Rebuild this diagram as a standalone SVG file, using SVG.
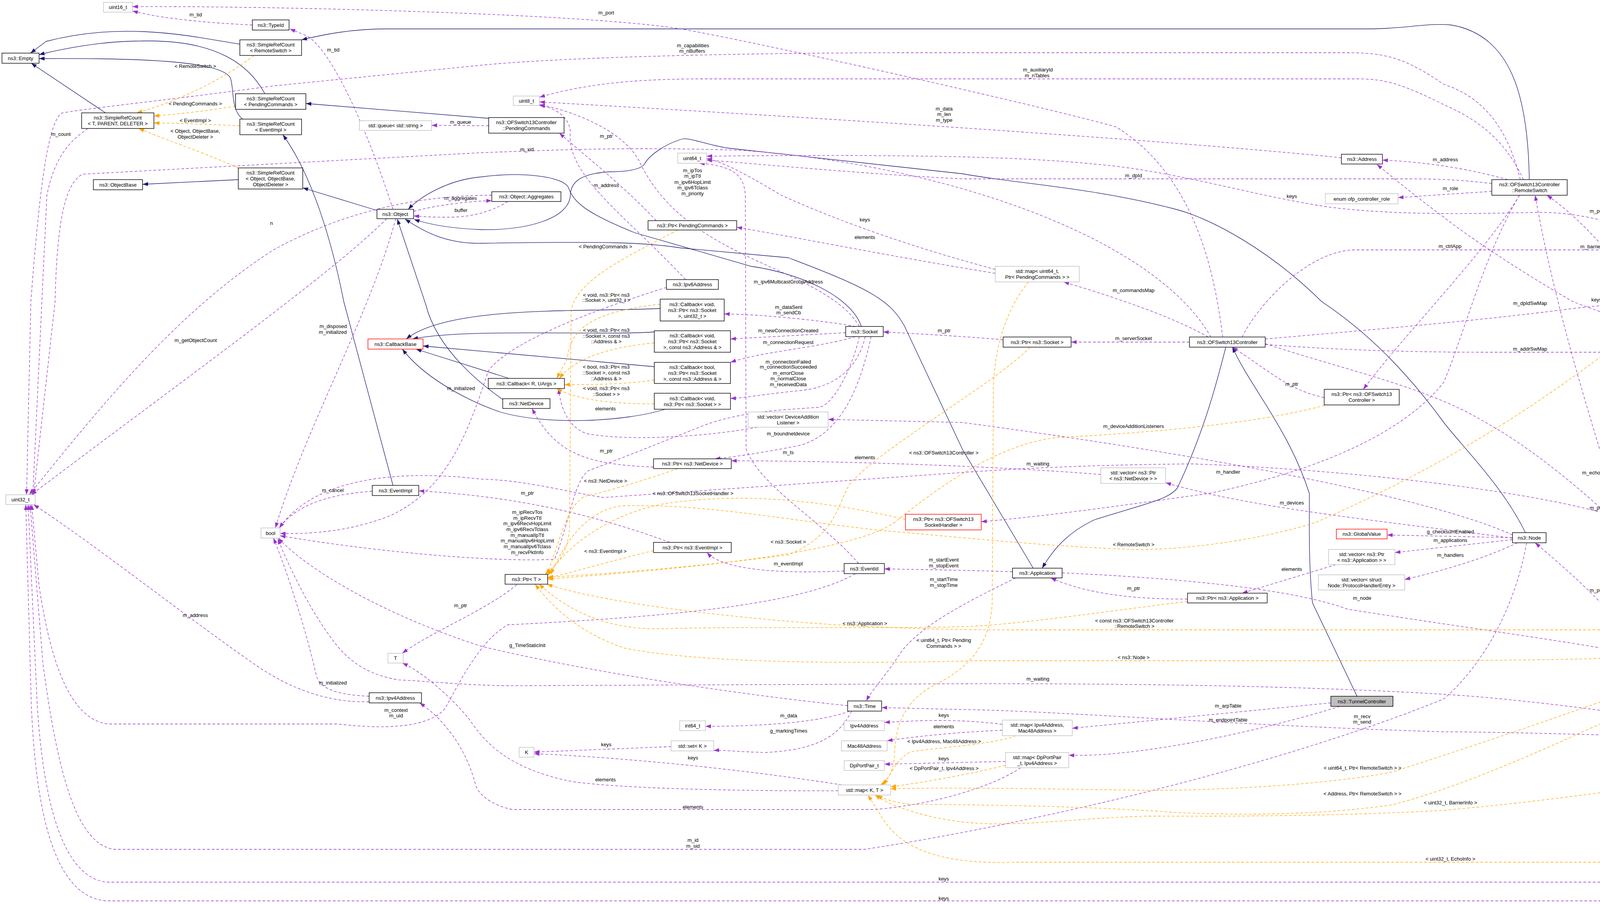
<svg xmlns="http://www.w3.org/2000/svg" width="4927" height="2315" viewBox="0 0 4927 2315">
<defs>
<style>
text{font-family:"Liberation Sans",Arial,sans-serif;font-size:13px;fill:#000;text-anchor:middle}
.n rect{fill:#fff;stroke:#000;stroke-width:1.4}
.g rect{fill:#fff;stroke:#bfbfbf;stroke-width:1.4}
.r rect{fill:#fff;stroke:#ff0000;stroke-width:1.4}
.s rect{fill:#bfbfbf;stroke:#000;stroke-width:1.4}
.i{fill:none;stroke:#191970;stroke-width:1.3;marker-end:url(#mi)}
.u{fill:none;stroke:#9a32cd;stroke-width:1.3;stroke-dasharray:7,5;marker-end:url(#mu)}
.t{fill:none;stroke:#ffa500;stroke-width:1.3;stroke-dasharray:7,5;marker-end:url(#mt)}
</style>
<marker id="mi" markerUnits="userSpaceOnUse" markerWidth="14" markerHeight="10" refX="14" refY="5" orient="auto"><path d="M0,0L14,5L0,10z" fill="#191970"/></marker>
<marker id="mu" markerUnits="userSpaceOnUse" markerWidth="14" markerHeight="10" refX="14" refY="5" orient="auto"><path d="M0,0L14,5L0,10z" fill="#9a32cd"/></marker>
<marker id="mt" markerUnits="userSpaceOnUse" markerWidth="14" markerHeight="10" refX="14" refY="5" orient="auto"><path d="M0,0L14,5L0,10z" fill="#ffa500"/></marker>
</defs>
<rect width="4927" height="2315" fill="#fff"/>
<g id="edges">
<path class="i" d="M614,113 C520,100 330,50 118,106 L78,136"/>
<path class="i" d="M678,240 C640,170 560,100 360,105 C260,105 160,125 100,140"/>
<path class="i" d="M621,305 C590,280 600,230 590,200 C570,160 400,148 100,150"/>
<path class="i" d="M270,289 L80,162"/>
<path class="i" d="M610,460 L365,472"/>
<path class="i" d="M965,539 L775,481"/>
<path class="i" d="M1006,1243 L880,772 C850,620 800,450 724,345"/>
<path class="i" d="M3915,460 C3912,250 3870,90 3715,64 C3650,58 3600,74 3500,74 L990,74 C900,74 830,88 772,102"/>
<path class="i" d="M1251,303 L783,265"/>
<path class="i" d="M1303,969 L1065,894"/>
<path class="i" d="M1675,939 L1083,886"/>
<path class="i" d="M1703,1048 C1600,1080 1400,1090 1280,1055 C1180,1020 1080,960 1030,894"/>
<path class="i" d="M1675,850 C1550,860 1200,840 1056,868"/>
<path class="i" d="M1690,790 C1500,800 1150,780 1040,868"/>
<path class="i" d="M2205,836 C2180,760 2050,700 1923,682 L1625,596 C1500,545 1470,520 1455,480 C1440,450 1330,440 1232,453 C1150,460 1080,500 1045,536"/>
<path class="i" d="M3905,1364 C3850,1250 3750,1150 3700,1087 C3600,950 3500,850 3383,772 C3250,640 3100,560 3014,537 C2800,480 2600,470 2464,445 L1861,379 C1800,368 1760,350 1743,357 C1700,370 1660,400 1650,420 C1640,435 1600,440 1560,440 C1480,445 1460,470 1460,502 C1455,560 1350,590 1232,588 C1150,585 1100,575 1060,562"/>
<path class="i" d="M2645,1455 L2464,1151 L2316,836 C2280,770 2230,740 2018,660 L1743,635 C1650,620 1546,618 1232,623 C1140,625 1080,590 1037,561"/>
<path class="i" d="M1287,1023 C1240,990 1120,900 1090,780 L1017,561"/>
<path class="i" d="M3138,889 C3110,1000 3077,1117 3014,1250 C2990,1280 2935,1289 2802,1331 C2740,1360 2700,1400 2668,1455"/>
<path class="i" d="M3474,1783 L3360,1544 C3350,1450 3352,1350 3352,1264 C3300,1100 3200,990 3155,889"/>

<path class="u" d="M646,64 C560,60 420,50 339,28"/>
<path class="u" d="M1006,536 C940,330 850,130 786,92 L742,74"/>
<path class="u" d="M3130,863 C3110,700 3060,450 2857,325 C2700,280 2000,120 1743,74 C1500,35 700,15 339,17"/>
<path class="u" d="M3892,460 C3860,330 3800,250 3696,216 C3600,150 3550,135 3450,135 L2300,135 C1800,136 1400,150 1232,167 L700,220 C400,260 200,280 157,290 C120,320 100,500 79,772 L68,1267"/>
<path class="u" d="M3900,460 C3850,350 3770,300 3696,268 C3600,220 3550,202 3480,202 L1800,202 C1600,202 1480,220 1381,249"/>
<path class="u" d="M3434,404 C3200,380 2600,330 1381,261"/>
<path class="u" d="M225,329 C180,360 140,400 120,500 L84,1267"/>
<path class="u" d="M1251,322 L1105,321"/>
<path class="u" d="M1059,541 C1120,525 1200,515 1259,514"/>
<path class="u" d="M1300,516 C1270,535 1230,550 1180,555 C1130,558 1090,555 1059,553"/>
<path class="u" d="M1680,565 C1600,480 1500,400 1432,341"/>
<path class="u" d="M3100,863 C2950,600 2400,420 1900,385 C1600,375 1400,385 1232,391 L212,446 C160,470 145,600 141,772 L86,1267"/>
<path class="u" d="M2200,836 C2150,750 2000,700 1900,650 C1800,600 1700,540 1640,420 C1600,330 1450,280 1381,268"/>
<path class="u" d="M1755,716 C1600,550 1450,450 1460,340 C1460,300 1420,275 1381,270"/>
<path class="u" d="M3819,470 C3750,462 3700,458 3600,458 L2464,458 C2200,445 1950,420 1809,410"/>
<path class="u" d="M2548,690 C2400,650 2200,590 2000,500 C1900,440 1850,415 1809,406"/>
<path class="u" d="M2548,700 C2300,660 2050,610 1886,582"/>
<path class="u" d="M4521,742 C4300,620 4100,540 3932,544 C3750,548 3564,551 3400,530 C3200,500 3014,438 2800,420 C2600,400 2300,395 1809,400"/>
<path class="u" d="M4470,880 C4350,870 4200,840 4026,772 C3900,700 3750,600 3696,556 C3620,500 3560,450 3525,421"/>
<path class="u" d="M4470,752 L4350,798"/>
<path class="u" d="M4488,865 L4312,811"/>
<path class="u" d="M4230,785 C4150,680 4050,560 3960,500"/>
<path class="u" d="M3860,460 C3750,430 3650,415 3539,410"/>
<path class="u" d="M3819,490 L3579,506"/>
<path class="u" d="M3890,500 C3800,650 3600,850 3490,997"/>
<path class="u" d="M3180,863 C3220,780 3350,640 3470,640 L4560,640 C4650,650 4700,750 4720,900 L4845,1881"/>
<path class="u" d="M3239,880 C3450,950 3650,990 3800,1080 C4000,1190 4250,1430 4420,1640 C4470,1750 4480,1815 4600,1840 C4700,1880 4780,1980 4833,2114"/>
<path class="u" d="M3239,868 C3450,850 3800,820 4010,792 C4200,770 4350,765 4470,763"/>
<path class="u" d="M3239,882 C3400,895 3600,902 3800,902 L4200,902 C4350,900 4420,895 4470,893"/>
<path class="u" d="M3093,863 C3000,810 2850,760 2723,722"/>
<path class="u" d="M3045,876 L2742,876"/>
<path class="u" d="M2568,870 C2450,860 2350,855 2261,850"/>
<path class="u" d="M3390,1018 C3300,1000 3250,950 3155,889"/>
<path class="u" d="M2190,836 C2100,820 1950,805 1854,804"/>
<path class="u" d="M2165,852 L1870,868"/>
<path class="u" d="M2190,862 C2100,890 1950,900 1870,928"/>
<path class="u" d="M2215,862 C2200,930 2150,990 2050,1000 C1950,1010 1900,1020 1870,1020"/>
<path class="u" d="M2230,862 C2200,1000 2150,1110 2050,1140 C1950,1160 1880,1170 1830,1175"/>
<path class="u" d="M1673,1196 C1500,1190 1420,1160 1362,1046"/>
<path class="u" d="M2818,1215 C2500,1190 2100,1180 1872,1180"/>
<path class="u" d="M1939,1094 C1800,1120 1600,1130 1500,1110 C1450,1090 1435,1040 1430,995"/>
<path class="u" d="M3872,1370 C3700,1290 3200,1180 2464,1082 L2120,1074"/>
<path class="u" d="M3872,1378 C3500,1330 3200,1300 2984,1236"/>
<path class="u" d="M3872,1377 L3551,1370"/>
<path class="u" d="M3872,1382 L3571,1415"/>
<path class="u" d="M3885,1390 C3800,1430 3700,1460 3596,1484"/>
<path class="u" d="M3420,1446 L3180,1519"/>
<path class="u" d="M3040,1534 C2900,1535 2780,1520 2690,1480"/>
<path class="u" d="M2719,1467 C3000,1480 3300,1505 3450,1560 C3700,1600 4000,1640 4170,1672"/>
<path class="u" d="M4200,1666 C4120,1550 4000,1450 3930,1390"/>
<path class="u" d="M4225,1586 C4150,1300 4000,900 3930,500"/>
<path class="u" d="M4516,1735 C4450,1700 4380,1660 4330,1640"/>
<path class="u" d="M4510,1871 C4420,1800 4370,1720 4340,1640"/>
<path class="u" d="M4810,1881 C4750,1830 4680,1790 4610,1775"/>
<path class="u" d="M4805,2114 C4700,2050 4640,1990 4582,1911"/>
<path class="u" d="M4839,1922 C4800,2100 4600,2250 4325,2259 L275,2259 C160,2250 110,2050 95,1800 L72,1292"/>
<path class="u" d="M4827,2154 C4780,2240 4650,2305 4560,2307 L275,2307 C130,2300 90,2050 80,1800 L66,1292"/>
<path class="u" d="M3908,1390 C3880,1550 3800,1700 3696,1790 C3300,1950 2700,2100 2214,2175 L291,2175 C200,2160 150,2000 110,1700 L77,1292"/>
<path class="u" d="M945,1797 C850,1800 750,1770 650,1700 C450,1560 250,1400 86,1292"/>
<path class="u" d="M945,1783 C880,1780 820,1770 810,1730 C780,1600 730,1450 700,1378"/>
<path class="u" d="M2190,1469 C2050,1550 1700,1580 1300,1600 C1230,1640 1180,1740 1139,1815 C1100,1860 1000,1870 864,1854 L275,1854 C180,1840 130,1700 100,1500 L81,1292"/>
<path class="u" d="M2198,1443 C2100,1330 1950,1250 1910,1150 L1908,500 C1905,450 1880,425 1790,418"/>
<path class="u" d="M2161,1462 C2000,1470 1850,1460 1810,1415"/>
<path class="u" d="M1715,1389 C1500,1310 1300,1270 1072,1257"/>
<path class="u" d="M953,1258 C850,1265 760,1290 715,1352"/>
<path class="u" d="M1013,560 C950,800 780,1100 705,1352"/>
<path class="u" d="M1706,736 C1500,800 1300,880 1250,950 C1200,1100 1150,1250 1000,1320 C900,1360 800,1368 717,1366"/>
<path class="u" d="M2200,862 C2180,950 2130,1040 2096,1043 C2000,1050 1900,1053 1800,1090 C1700,1130 1600,1170 1507,1205 C1470,1230 1460,1330 1420,1432 C1300,1440 1000,1420 717,1372"/>
<path class="u" d="M2170,1807 C1900,1780 1500,1720 1232,1655 C1000,1580 800,1470 712,1378"/>
<path class="u" d="M1323,1497 C1250,1560 1100,1620 1030,1673"/>
<path class="u" d="M2175,1821 C2100,1850 1950,1860 1806,1860"/>
<path class="u" d="M2180,1821 C2150,1880 2100,1920 1960,1927 C1880,1925 1850,1920 1827,1922"/>
<path class="u" d="M1718,1912 L1367,1926"/>
<path class="u" d="M2155,2010 C1900,1970 1600,1940 1367,1930"/>
<path class="u" d="M2146,2025 C1900,2026 1600,2020 1468,2002 C1300,1970 1240,1900 1200,1840 C1150,1780 1080,1720 1030,1698"/>
<path class="u" d="M2566,1855 C2450,1840 2350,1845 2264,1850"/>
<path class="u" d="M2566,1870 C2450,1875 2350,1885 2271,1897"/>
<path class="u" d="M2574,1950 L2264,1957"/>
<path class="u" d="M2613,1966 C2550,2010 2400,2060 2238,2073 L1311,2073 C1250,2060 1225,2030 1218,2012 C1190,1900 1120,1830 1074,1800"/>
<path class="u" d="M3407,1800 C3200,1820 2900,1850 2745,1865"/>
<path class="u" d="M3430,1809 C3200,1880 2900,1940 2736,1934"/>
<path class="u" d="M4464,1893 C4200,1885 3900,1875 3696,1874 C3200,1860 2700,1820 2464,1817 L2257,1812"/>
<path class="u" d="M4464,1873 C4200,1830 3900,1790 3696,1778 C3400,1760 3000,1750 2464,1751 L1300,1756 C1200,1755 1100,1745 1021,1741 C950,1730 900,1700 860,1650 C790,1560 740,1450 711,1380"/>
<path class="u" d="M4545,1735 C4480,1600 4300,1400 4136,1323 C3900,1250 3400,1200 3053,1188 C2800,1190 2600,1200 2464,1210 L1546,1274 C1450,1260 1350,1230 1232,1227 C1000,1200 800,1230 715,1352"/>
<path class="u" d="M3890,500 C3800,650 3750,850 3696,979 C3600,1100 3400,1200 3093,1264 C2900,1290 2700,1320 2512,1336"/>
<path class="u" d="M2592,1464 C2450,1460 2350,1458 2264,1457"/>
<path class="u" d="M2600,1480 C2500,1530 2350,1600 2300,1680 C2260,1740 2230,1770 2218,1795"/>
<path class="u" d="M990,560 C850,700 500,950 80,1267"/>
<path class="u" d="M1259,500 C1100,500 900,530 700,640 C450,800 250,1050 75,1267"/>

<path class="t" d="M650,142 C550,220 420,270 350,289"/>
<path class="t" d="M603,272 C520,285 450,293 394,297"/>
<path class="t" d="M614,322 C520,318 450,315 394,315"/>
<path class="t" d="M610,430 C520,390 430,360 355,329"/>
<path class="t" d="M1690,779 C1500,800 1460,850 1452,920 L1425,969"/>
<path class="t" d="M1675,878 C1550,890 1470,920 1432,969"/>
<path class="t" d="M1675,973 C1600,985 1500,985 1445,985"/>
<path class="t" d="M1675,1034 C1550,1035 1470,1020 1425,995"/>
<path class="t" d="M1735,589 C1600,660 1470,720 1462,800 L1458,1350 C1455,1420 1420,1450 1395,1471"/>
<path class="t" d="M1735,1200 C1650,1230 1550,1260 1500,1270 C1450,1290 1430,1400 1400,1471"/>
<path class="t" d="M2318,1330 C2100,1280 1900,1260 1700,1290 C1550,1320 1450,1400 1402,1474"/>
<path class="t" d="M1673,1410 C1550,1440 1450,1470 1402,1480"/>
<path class="t" d="M2637,889 C2550,980 2250,1150 2175,1240 C2140,1300 2140,1370 2018,1421 C1800,1450 1550,1470 1402,1478"/>
<path class="t" d="M3391,1038 C3200,1090 2900,1110 2700,1121 C2550,1140 2400,1250 2300,1330 C2200,1420 1700,1460 1402,1483"/>
<path class="t" d="M4234,811 C4050,950 3800,1150 3368,1338 C3200,1390 3000,1410 2896,1407 C2700,1400 2500,1380 2253,1358 C2000,1330 1800,1290 1600,1295 C1500,1300 1440,1400 1410,1471"/>
<path class="t" d="M3040,1540 C2800,1570 2600,1600 2464,1605 C2200,1610 1900,1604 1700,1610 C1550,1615 1450,1560 1380,1496"/>
<path class="t" d="M4168,1613 L2600,1613 C2300,1613 2100,1600 1900,1580 C1700,1560 1500,1530 1400,1496"/>
<path class="t" d="M4170,1684 C4000,1690 3800,1692 3500,1692 L2500,1692 C2200,1700 1800,1700 1600,1660 C1480,1620 1410,1550 1370,1496"/>
<path class="t" d="M2633,722 C2570,800 2545,900 2543,1000 L2540,1544 C2535,1650 2480,1710 2400,1750 C2320,1790 2293,1849 2290,1930 C2288,1980 2270,2000 2254,2010"/>
<path class="t" d="M2601,1884 C2550,1905 2400,1915 2332,1925 C2300,1940 2280,1980 2262,2010"/>
<path class="t" d="M2574,1960 C2450,1990 2350,2005 2280,2015"/>
<path class="t" d="M4529,782 C4460,870 4410,950 4411,1043 C4415,1200 4440,1400 4438,1544 C4430,1650 4380,1710 4348,1711 C4200,1760 3900,1870 3564,1977 C3400,2010 3100,2025 2935,2024 C2700,2020 2400,2016 2280,2020"/>
<path class="t" d="M4560,905 C4555,1100 4520,1400 4497,1544 C4480,1650 4435,1716 4300,1760 C4100,1850 3800,2000 3564,2061 C3400,2085 3200,2090 3000,2080 C2800,2065 2500,2060 2332,2060 C2290,2055 2260,2045 2245,2036"/>
<path class="t" d="M4771,1917 C4500,1970 4100,2040 3696,2075 C3400,2092 3100,2090 2935,2090 C2750,2095 2600,2120 2464,2105 C2380,2095 2290,2070 2240,2036"/>
<path class="t" d="M4796,2154 C4760,2180 4650,2208 4560,2208 L2600,2208 C2400,2215 2300,2170 2253,2085 L2222,2036"/>

<g id="labels">
<text x="501" y="42">m_tid</text>
<text x="853" y="132">m_tid</text>
<text x="1552" y="37">m_port</text>
<text x="1774" y="121">m_capabilities</text><text x="1772" y="135">m_nBuffers</text>
<text x="2657" y="183">m_auxiliaryId</text><text x="2655" y="198">m_nTables</text>
<text x="2417" y="283">m_data</text><text x="2417" y="297">m_len</text><text x="2417" y="312">m_type</text>
<text x="156" y="348">m_count</text>
<text x="1179" y="317">m_queue</text>
<text x="1179" y="512">m_aggregates</text>
<text x="1180" y="543">buffer</text>
<text x="695" y="576">n</text>
<text x="1552" y="353">m_ptr</text>
<text x="1349" y="387">m_xid</text>
<text x="1773" y="441">m_ipTos</text><text x="1773" y="455">m_ipTtl</text><text x="1773" y="471">m_ipv6HopLimit</text><text x="1773" y="485">m_ipv6Tclass</text><text x="1773" y="500">m_priority</text>
<text x="1552" y="479">m_address</text>
<text x="2214" y="567">keys</text>
<text x="2214" y="612">elements</text>
<text x="1550" y="636">&lt; PendingCommands &gt;</text>
<text x="2018" y="726">m_ipv6MulticastGroupAddress</text>
<text x="2902" y="454">m_dpId</text>
<text x="3307" y="507">keys</text>
<text x="2902" y="748">m_commandsMap</text>
<text x="3700" y="413">m_address</text>
<text x="3713" y="487">m_role</text>
<text x="4086" y="545">m_ptr</text>
<text x="3712" y="635">m_ctrlApp</text>
<text x="4086" y="636">m_barrierMap</text>
<text x="4087" y="772">keys</text>
<text x="4409" y="774">elements</text>
<text x="3917" y="781">m_dpIdSwMap</text>
<text x="4409" y="828">elements</text>
<text x="3917" y="898">m_addrSwMap</text>
<text x="4086" y="1215">m_echoMap</text>
<text x="4086" y="1305">m_ptr</text>
<text x="4086" y="1516">m_ptr</text>
<text x="3713" y="1366">g_checksumEnabled</text>
<text x="3713" y="1388">m_applications</text>
<text x="3713" y="1426">m_handlers</text>
<text x="853" y="840">m_disposed</text><text x="852" y="855">m_initialized</text>
<text x="501" y="876">m_getObjectCount</text>
<text x="1180" y="999">m_initialized</text>
<text x="852" y="1260">m_cancel</text>
<text x="2019" y="791">m_dataSent</text><text x="2019" y="805">m_sendCb</text>
<text x="2018" y="851">m_newConnectionCreated</text>
<text x="2018" y="881">m_connectionRequest</text>
<text x="2018" y="931">m_connectionFailed</text><text x="2018" y="944">m_connectionSucceeded</text><text x="2018" y="960">m_errorClose</text><text x="2018" y="974">m_normalClose</text><text x="2018" y="989">m_receivedData</text>
<text x="2417" y="851">m_ptr</text>
<text x="1552" y="760">&lt; void, ns3::Ptr&lt; ns3</text><text x="1552" y="773">::Socket &gt;, uint32_t &gt;</text>
<text x="1552" y="850">&lt; void, ns3::Ptr&lt; ns3</text><text x="1552" y="865">::Socket &gt;, const ns3</text><text x="1552" y="879">::Address &amp; &gt;</text>
<text x="1552" y="944">&lt; bool, ns3::Ptr&lt; ns3</text><text x="1552" y="959">::Socket &gt;, const ns3</text><text x="1552" y="974">::Address &amp; &gt;</text>
<text x="1552" y="999">&lt; void, ns3::Ptr&lt; ns3</text><text x="1552" y="1014">::Socket &gt; &gt;</text>
<text x="1550" y="1051">elements</text>
<text x="2018" y="1115">m_boundnetdevice</text>
<text x="1552" y="1159">m_ptr</text>
<text x="2018" y="1163">m_ts</text>
<text x="2214" y="1176">elements</text>
<text x="2416" y="1164">&lt; ns3::OFSwitch13Controller &gt;</text>
<text x="1550" y="1236">&lt; ns3::NetDevice &gt;</text>
<text x="1350" y="1267">m_ptr</text>
<text x="1774" y="1268">&lt; ns3::OFSwitch13SocketHandler &gt;</text>
<text x="1350" y="1316">m_ipRecvTos</text><text x="1350" y="1331">m_ipRecvTtl</text><text x="1350" y="1345">m_ipv6RecvHopLimit</text><text x="1350" y="1360">m_ipv6RecvTclass</text><text x="1350" y="1375">m_manualIpTtl</text><text x="1350" y="1389">m_manualIpv6HopLimit</text><text x="1350" y="1404">m_manualIpv6Tclass</text><text x="1350" y="1419">m_recvPktInfo</text>
<text x="2018" y="1392">&lt; ns3::Socket &gt;</text>
<text x="1550" y="1416">&lt; ns3::EventImpl &gt;</text>
<text x="2018" y="1448">m_eventImpl</text>
<text x="2416" y="1438">m_startEvent</text><text x="2416" y="1453">m_stopEvent</text>
<text x="2416" y="1488">m_startTime</text><text x="2416" y="1503">m_stopTime</text>
<text x="2902" y="871">m_serverSocket</text>
<text x="3307" y="988">m_ptr</text>
<text x="2902" y="1096">m_deviceAdditionListeners</text>
<text x="2657" y="1192">m_waiting</text>
<text x="3144" y="1213">m_handler</text>
<text x="3307" y="1292">m_devices</text>
<text x="2902" y="1399">&lt; RemoteSwitch &gt;</text>
<text x="3307" y="1462">elements</text>
<text x="2902" y="1511">m_ptr</text>
<text x="3487" y="1536">m_node</text>
<text x="1179" y="1555">m_ptr</text>
<text x="500" y="1580">m_address</text>
<text x="852" y="1753">m_initialized</text>
<text x="1014" y="1823">m_context</text><text x="1014" y="1837">m_uid</text>
<text x="2214" y="1601">&lt; ns3::Application &gt;</text>
<text x="2416" y="1644">&lt; uint64_t, Ptr&lt; Pending</text><text x="2416" y="1659">Commands &gt; &gt;</text>
<text x="1350" y="1657">g_TimeStaticInit</text>
<text x="2019" y="1837">m_data</text>
<text x="2416" y="1836">keys</text>
<text x="2019" y="1876">g_markingTimes</text>
<text x="2416" y="1865">elements</text>
<text x="2417" y="1903">&lt; Ipv4Address, Mac48Address &gt;</text>
<text x="1552" y="1911">keys</text>
<text x="1774" y="1945">keys</text>
<text x="2416" y="1947">keys</text>
<text x="2417" y="1972">&lt; DpPortPair_t, Ipv4Address &gt;</text>
<text x="1550" y="2001">elements</text>
<text x="1774" y="2071">elements</text>
<text x="1774" y="2156">m_id</text><text x="1774" y="2171">m_sid</text>
<text x="2416" y="2255">keys</text>
<text x="2416" y="2305">keys</text>
<text x="2904" y="1594">&lt; const ns3::OFSwitch13Controller</text><text x="2904" y="1608">::RemoteSwitch &gt;</text>
<text x="2902" y="1688">&lt; ns3::Node &gt;</text>
<text x="2657" y="1743">m_waiting</text>
<text x="3144" y="1812">m_arpTable</text>
<text x="3144" y="1848">m_endpointTable</text>
<text x="3487" y="1839">m_recv</text><text x="3487" y="1853">m_send</text>
<text x="3488" y="1971">&lt; uint64_t, Ptr&lt; RemoteSwitch &gt; &gt;</text>
<text x="3488" y="2037">&lt; Address, Ptr&lt; RemoteSwitch &gt; &gt;</text>
<text x="3713" y="2060">&lt; uint32_t, BarrierInfo &gt;</text>
<text x="3713" y="2204">&lt; uint32_t, EchoInfo &gt;</text>
<text x="4409" y="1661">m_swtch</text>
<text x="4409" y="1709">m_swtch</text>
<text x="4716" y="1805">elements</text>
<text x="4716" y="2027">elements</text>
<text x="500" y="174">&lt; RemoteSwitch &gt;</text>
<text x="500" y="270">&lt; PendingCommands &gt;</text>
<text x="500" y="313">&lt; EventImpl &gt;</text>
<text x="500" y="340">&lt; Object, ObjectBase,</text><text x="500" y="355">ObjectDeleter &gt;</text>
</g>
</g>
<g id="n_uint16" class="g"><rect x="265" y="6" width="74" height="25"/><text x="302" y="23">uint16_t</text></g>
<g id="n_typeid" class="n"><rect x="646" y="51" width="94" height="26"/><text x="693" y="68.5">ns3::TypeId</text></g>
<g id="n_src_rs" class="n"><rect x="614" y="102" width="158" height="40"/><text x="693" y="119">ns3::SimpleRefCount</text><text x="693" y="134">&lt; RemoteSwitch &gt;</text></g>
<g id="n_empty" class="n"><rect x="5" y="136" width="95" height="26"/><text x="52.5" y="153.5">ns3::Empty</text></g>
<g id="n_src_pc" class="n"><rect x="603" y="240" width="180" height="40"/><text x="693" y="257">ns3::SimpleRefCount</text><text x="693" y="272">&lt; PendingCommands &gt;</text></g>
<g id="n_src_tpd" class="n"><rect x="209" y="289" width="185" height="40"/><text x="301.5" y="306">ns3::SimpleRefCount</text><text x="301.5" y="321">&lt; T, PARENT, DELETER &gt;</text></g>
<g id="n_src_ei" class="n"><rect x="614" y="305" width="158" height="40"/><text x="693" y="322">ns3::SimpleRefCount</text><text x="693" y="337">&lt; EventImpl &gt;</text></g>
<g id="n_queue" class="g"><rect x="920" y="309" width="185" height="25"/><text x="1012.5" y="326">std::queue&lt; std::string &gt;</text></g>
<g id="n_objectbase" class="n"><rect x="239" y="460" width="126" height="26"/><text x="302" y="477.5">ns3::ObjectBase</text></g>
<g id="n_src_obj" class="n"><rect x="610" y="430" width="165" height="54"/><text x="692.5" y="446.5">ns3::SimpleRefCount</text><text x="692.5" y="461.5">&lt; Object, ObjectBase,</text><text x="692.5" y="476.5">ObjectDeleter &gt;</text></g>
<g id="n_object" class="n"><rect x="965" y="536" width="94" height="24"/><text x="1012" y="552.5">ns3::Object</text></g>
<g id="n_uint8" class="g"><rect x="1314" y="246" width="67" height="24"/><text x="1347.5" y="262.5">uint8_t</text></g>
<g id="n_pc" class="n"><rect x="1251" y="301" width="193" height="40"/><text x="1347.5" y="318">ns3::OFSwitch13Controller</text><text x="1347.5" y="333">::PendingCommands</text></g>
<g id="n_aggr" class="n"><rect x="1259" y="491" width="177" height="25"/><text x="1347.5" y="508">ns3::Object::Aggregates</text></g>
<g id="n_uint64" class="g"><rect x="1735" y="392" width="74" height="26"/><text x="1772" y="409.5">uint64_t</text></g>
<g id="n_ptrpc" class="n"><rect x="1659" y="565" width="227" height="24"/><text x="1772.5" y="581.5">ns3::Ptr&lt; PendingCommands &gt;</text></g>
<g id="n_ipv6" class="n"><rect x="1706" y="716" width="133" height="25"/><text x="1772.5" y="733">ns3::Ipv6Address</text></g>
<g id="n_address" class="n"><rect x="3434" y="395" width="105" height="25"/><text x="3486.5" y="412">ns3::Address</text></g>
<g id="n_role" class="g"><rect x="3393" y="496" width="186" height="26"/><text x="3486" y="513.5">enum ofp_controller_role</text></g>
<g id="n_mappc" class="g"><rect x="2548" y="682" width="215" height="40"/><text x="2655.5" y="699">std::map&lt; uint64_t,</text><text x="2655.5" y="714">Ptr&lt; PendingCommands &gt; &gt;</text></g>
<g id="n_rs" class="n"><rect x="3819" y="460" width="193" height="40"/><text x="3915.5" y="477">ns3::OFSwitch13Controller</text><text x="3915.5" y="492">::RemoteSwitch</text></g>
<g id="n_mapu64rs" class="g"><rect x="4470" y="742" width="182" height="40"/><text x="4561" y="759">std::map&lt; uint64_t,</text><text x="4561" y="774">Ptr&lt; RemoteSwitch &gt; &gt;</text></g>
<g id="n_ptrrs" class="n"><rect x="4156" y="785" width="194" height="26"/><text x="4253" y="802.5">ns3::Ptr&lt; RemoteSwitch &gt;</text></g>
<g id="n_mapaddrrs" class="g"><rect x="4470" y="865" width="182" height="40"/><text x="4561" y="882">std::map&lt; Address,</text><text x="4561" y="897">Ptr&lt; RemoteSwitch &gt; &gt;</text></g>
<g id="n_node" class="n"><rect x="3872" y="1364" width="86" height="26"/><text x="3915" y="1381.5">ns3::Node</text></g>
<g id="n_cbbase" class="r"><rect x="942" y="868" width="141" height="26"/><text x="1012.5" y="885.5">ns3::CallbackBase</text></g>
<g id="n_eventimpl" class="n"><rect x="953" y="1243" width="119" height="26"/><text x="1012.5" y="1260.5">ns3::EventImpl</text></g>
<g id="n_uint32" class="g"><rect x="15" y="1267" width="75" height="25"/><text x="52.5" y="1284">uint32_t</text></g>
<g id="n_bool" class="g"><rect x="668" y="1352" width="49" height="26"/><text x="692.5" y="1369.5">bool</text></g>
<g id="n_cbu32" class="n"><rect x="1690" y="766" width="164" height="56"/><text x="1772" y="783.5">ns3::Callback&lt; void,</text><text x="1772" y="798.5">ns3::Ptr&lt; ns3::Socket</text><text x="1772" y="813.5">&gt;, uint32_t &gt;</text></g>
<g id="n_socket" class="n"><rect x="2165" y="836" width="96" height="26"/><text x="2213" y="853.5">ns3::Socket</text></g>
<g id="n_cbaddr" class="n"><rect x="1675" y="847" width="195" height="55"/><text x="1772.5" y="864">ns3::Callback&lt; void,</text><text x="1772.5" y="879">ns3::Ptr&lt; ns3::Socket</text><text x="1772.5" y="894">&gt;, const ns3::Address &amp; &gt;</text></g>
<g id="n_cbbool" class="n"><rect x="1675" y="928" width="195" height="54"/><text x="1772.5" y="944.5">ns3::Callback&lt; bool,</text><text x="1772.5" y="959.5">ns3::Ptr&lt; ns3::Socket</text><text x="1772.5" y="974.5">&gt;, const ns3::Address &amp; &gt;</text></g>
<g id="n_cbr" class="n"><rect x="1250" y="969" width="195" height="26"/><text x="1347.5" y="986.5">ns3::Callback&lt; R, UArgs &gt;</text></g>
<g id="n_cbvoid" class="n"><rect x="1675" y="1007" width="195" height="41"/><text x="1772.5" y="1024.5">ns3::Callback&lt; void,</text><text x="1772.5" y="1039.5">ns3::Ptr&lt; ns3::Socket &gt; &gt;</text></g>
<g id="n_netdevice" class="n"><rect x="1287" y="1021" width="121" height="25"/><text x="1347.5" y="1038">ns3::NetDevice</text></g>
<g id="n_vecdal" class="g"><rect x="1915" y="1055" width="205" height="39"/><text x="2017.5" y="1071.5">std::vector&lt; DeviceAddition</text><text x="2017.5" y="1086.5">Listener &gt;</text></g>
<g id="n_ptrnd" class="n"><rect x="1673" y="1175" width="199" height="25"/><text x="1772.5" y="1192">ns3::Ptr&lt; ns3::NetDevice &gt;</text></g>
<g id="n_ptrsh" class="r"><rect x="2318" y="1317" width="194" height="40"/><text x="2415" y="1334">ns3::Ptr&lt; ns3::OFSwitch13</text><text x="2415" y="1349">SocketHandler &gt;</text></g>
<g id="n_ptrei" class="n"><rect x="1673" y="1389" width="199" height="26"/><text x="1772.5" y="1406.5">ns3::Ptr&lt; ns3::EventImpl &gt;</text></g>
<g id="n_eventid" class="n"><rect x="2161" y="1443" width="103" height="26"/><text x="2212.5" y="1460.5">ns3::EventId</text></g>
<g id="n_ptrt" class="n"><rect x="1293" y="1471" width="109" height="25"/><text x="1347.5" y="1488">ns3::Ptr&lt; T &gt;</text></g>
<g id="n_ptrsocket" class="n"><rect x="2568" y="863" width="174" height="26"/><text x="2655" y="880.5">ns3::Ptr&lt; ns3::Socket &gt;</text></g>
<g id="n_ofsc" class="n"><rect x="3045" y="863" width="194" height="26"/><text x="3142" y="880.5">ns3::OFSwitch13Controller</text></g>
<g id="n_ptrofsc" class="n"><rect x="3390" y="997" width="192" height="40"/><text x="3486" y="1014">ns3::Ptr&lt; ns3::OFSwitch13</text><text x="3486" y="1029">Controller &gt;</text></g>
<g id="n_vecnd" class="g"><rect x="2818" y="1198" width="166" height="40"/><text x="2901" y="1215">std::vector&lt; ns3::Ptr</text><text x="2901" y="1230">&lt; ns3::NetDevice &gt; &gt;</text></g>
<g id="n_globalvalue" class="r"><rect x="3421" y="1355" width="130" height="25"/><text x="3486" y="1372">ns3::GlobalValue</text></g>
<g id="n_vecapp" class="g"><rect x="3401" y="1407" width="170" height="39"/><text x="3486" y="1423.5">std::vector&lt; ns3::Ptr</text><text x="3486" y="1438.5">&lt; ns3::Application &gt; &gt;</text></g>
<g id="n_vecphe" class="g"><rect x="3375" y="1472" width="221" height="39"/><text x="3485.5" y="1488.5">std::vector&lt; struct</text><text x="3485.5" y="1503.5">Node::ProtocolHandlerEntry &gt;</text></g>
<g id="n_application" class="n"><rect x="2592" y="1455" width="127" height="25"/><text x="2655.5" y="1472">ns3::Application</text></g>
<g id="n_ptrapp" class="n"><rect x="3040" y="1519" width="204" height="25"/><text x="3142" y="1536">ns3::Ptr&lt; ns3::Application &gt;</text></g>
<g id="n_t" class="g"><rect x="993" y="1673" width="39" height="25"/><text x="1012.5" y="1690">T</text></g>
<g id="n_ipv4" class="n"><rect x="945" y="1774" width="134" height="26"/><text x="1012" y="1791.5">ns3::Ipv4Address</text></g>
<g id="n_time" class="n"><rect x="2170" y="1795" width="87" height="26"/><text x="2213.5" y="1812.5">ns3::Time</text></g>
<g id="n_int64" class="g"><rect x="1740" y="1846" width="66" height="25"/><text x="1773" y="1863">int64_t</text></g>
<g id="n_ipv4g" class="g"><rect x="2161" y="1846" width="103" height="25"/><text x="2212.5" y="1863">Ipv4Address</text></g>
<g id="n_mac48" class="g"><rect x="2154" y="1897" width="117" height="26"/><text x="2212.5" y="1914.5">Mac48Address</text></g>
<g id="n_setk" class="g"><rect x="1718" y="1897" width="109" height="26"/><text x="1772.5" y="1914.5">std::set&lt; K &gt;</text></g>
<g id="n_k" class="g"><rect x="1329" y="1914" width="38" height="25"/><text x="1348" y="1931">K</text></g>
<g id="n_dpport" class="g"><rect x="2161" y="1948" width="103" height="25"/><text x="2212.5" y="1965">DpPortPair_t</text></g>
<g id="n_mapkt" class="g"><rect x="2146" y="2010" width="134" height="26"/><text x="2213" y="2027.5">std::map&lt; K, T &gt;</text></g>
<g id="n_mapim" class="g"><rect x="2566" y="1844" width="179" height="40"/><text x="2655.5" y="1861">std::map&lt; Ipv4Address,</text><text x="2655.5" y="1876">Mac48Address &gt;</text></g>
<g id="n_mapdi" class="g"><rect x="2574" y="1927" width="162" height="39"/><text x="2655" y="1943.5">std::map&lt; DpPortPair</text><text x="2655" y="1958.5">_t, Ipv4Address &gt;</text></g>
<g id="n_tunnel" class="s"><rect x="3407" y="1783" width="159" height="26"/><text x="3486.5" y="1800.5">ns3::TunnelController</text></g>
<g id="n_ptrcrs" class="n"><rect x="4168" y="1586" width="171" height="54"/><text x="4253.5" y="1602.5">ns3::Ptr&lt; const ns3</text><text x="4253.5" y="1617.5">::OFSwitch13Controller</text><text x="4253.5" y="1632.5">::RemoteSwitch &gt;</text></g>
<g id="n_ptrnode" class="n"><rect x="4170" y="1666" width="167" height="26"/><text x="4253.5" y="1683.5">ns3::Ptr&lt; ns3::Node &gt;</text></g>
<g id="n_barrier" class="n"><rect x="4464" y="1735" width="194" height="40"/><text x="4561" y="1752">ns3::OFSwitch13Controller</text><text x="4561" y="1767">::BarrierInfo</text></g>
<g id="n_echo" class="n"><rect x="4464" y="1871" width="194" height="40"/><text x="4561" y="1888">ns3::OFSwitch13Controller</text><text x="4561" y="1903">::EchoInfo</text></g>
<g id="n_mapbi" class="g"><rect x="4771" y="1881" width="151" height="41"/><text x="4846.5" y="1898.5">std::map&lt; uint32_t,</text><text x="4846.5" y="1913.5">BarrierInfo &gt;</text></g>
<g id="n_mapei" class="g"><rect x="4771" y="2114" width="151" height="40"/><text x="4846.5" y="2131">std::map&lt; uint32_t,</text><text x="4846.5" y="2146">EchoInfo &gt;</text></g>
</svg>
